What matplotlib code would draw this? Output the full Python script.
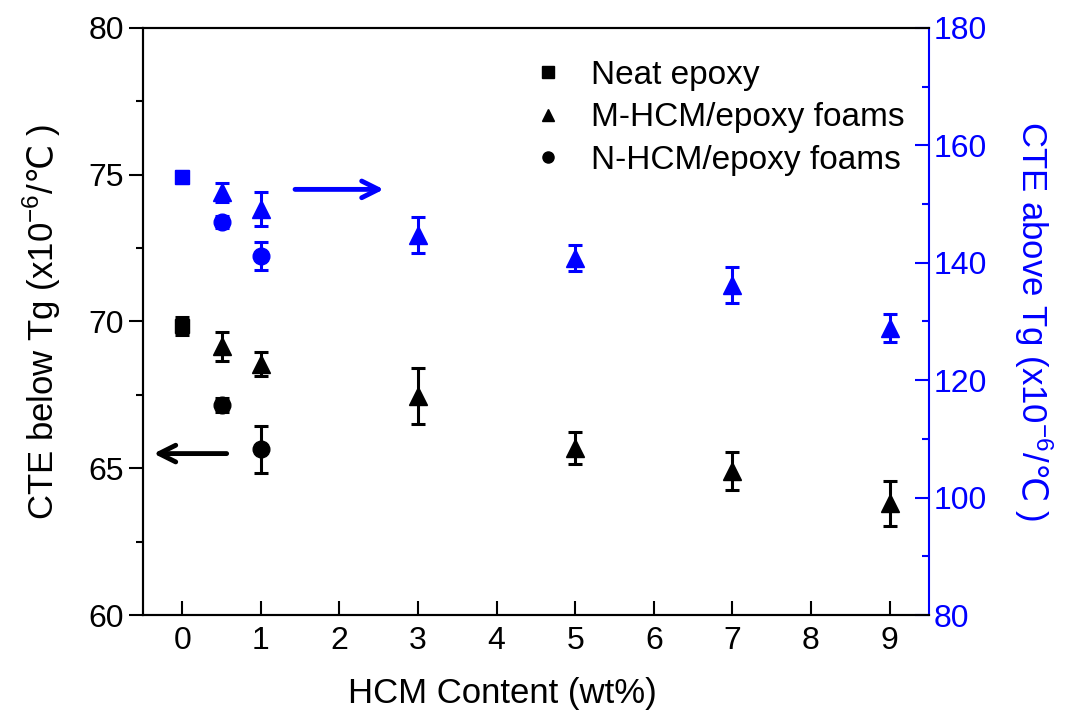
"""CTE below / above Tg versus HCM content, dual y axes."""

import matplotlib

matplotlib.use("Agg")
import matplotlib.pyplot as plt
from matplotlib.lines import Line2D
from matplotlib.ticker import MultipleLocator

plt.rcParams["font.family"] = ["Liberation Sans", "DejaVu Sans"]
plt.rcParams["mathtext.fontset"] = "custom"
plt.rcParams["mathtext.rm"] = "Liberation Sans"
plt.rcParams["mathtext.sf"] = "DejaVu Sans"

BLUE = "#0000ff"

# CTE below Tg (left axis)
neat_x = [0]
neat_below = [69.85]
neat_below_err = [0.3]
m_x = [0.5, 1, 3, 5, 7, 9]
m_below = [69.15, 68.55, 67.45, 65.7, 64.9, 63.8]
m_below_err = [0.5, 0.4, 0.95, 0.55, 0.65, 0.75]
n_x = [0.5, 1]
n_below = [67.15, 65.65]
n_below_err = [0.25, 0.8]

# CTE above Tg (right axis)
neat_above = [154.6]
neat_above_err = [1.0]
m_above = [152.0, 149.2, 144.7, 140.8, 136.2, 128.9]
m_above_err = [1.6, 2.9, 3.1, 2.2, 3.0, 2.4]
n_above = [147.0, 141.2]
n_above_err = [1.0, 2.4]

x_ticks = [0, 1, 2, 3, 4, 5, 6, 7, 8, 9]

fig = plt.figure(figsize=(10.75, 7.16), dpi=100)
ax = fig.add_axes([0.133, 0.141, 0.731, 0.82])
ax2 = ax.twinx()

eb = dict(linestyle="none", capsize=5, elinewidth=2.2, capthick=2.2)
ax.errorbar(neat_x, neat_below, yerr=neat_below_err, marker="s", ms=10, color="black", **eb)
ax.errorbar(m_x, m_below, yerr=m_below_err, marker="^", ms=13, color="black", **eb)
ax.errorbar(n_x, n_below, yerr=n_below_err, marker="o", ms=12, color="black", **eb)

ax2.errorbar(neat_x, neat_above, yerr=neat_above_err, marker="s", ms=10, color=BLUE, **eb)
ax2.errorbar(m_x, m_above, yerr=m_above_err, marker="^", ms=13, color=BLUE, **eb)
ax2.errorbar(n_x, n_above, yerr=n_above_err, marker="o", ms=12, color=BLUE, **eb)

ax.set_xlim(-0.5, 9.5)
ax.set_ylim(60, 80)
ax2.set_ylim(80, 180)
ax.set_xticks(x_ticks)
ax.yaxis.set_major_locator(MultipleLocator(5))
ax.yaxis.set_minor_locator(MultipleLocator(2.5))
ax2.yaxis.set_major_locator(MultipleLocator(20))
ax2.yaxis.set_minor_locator(MultipleLocator(10))

ax.tick_params(axis="x", direction="in", length=10, width=1.5, labelsize=23, pad=8, top=False)
ax.tick_params(axis="y", which="major", direction="out", length=10, width=1.5, labelsize=23)
ax.tick_params(axis="y", which="minor", direction="out", length=5, width=1.5)
ax2.tick_params(axis="y", which="major", direction="in", length=10, width=1.5,
                labelsize=23, colors=BLUE)
ax2.tick_params(axis="y", which="minor", direction="in", length=5, width=1.5, colors=BLUE)

for a in (ax, ax2):
    for s in a.spines.values():
        s.set_linewidth(1.5)
ax2.spines["right"].set_color(BLUE)
ax.spines["right"].set_visible(False)

ax.set_xlabel("HCM Content (wt%)", fontsize=25)
ax.xaxis.set_label_coords(0.457, -0.105)
ax.set_ylabel(r"CTE below Tg (x10$^{\mathrm{-6}}$/$\mathsf{℃}$ )", fontsize=25)
ax.yaxis.set_label_coords(-0.102, 0.5)
ax2.set_ylabel(r"CTE above Tg (x10$^{\mathrm{-6}}$/$\mathsf{℃}$ )", fontsize=25, color=BLUE,
               rotation=270)
ax2.yaxis.set_label_coords(1.16, 0.5)

# arrows pointing to the relevant axis
ax2.annotate("", xy=(2.6, 152.5), xytext=(1.4, 152.5),
             arrowprops=dict(arrowstyle="->", color=BLUE, lw=3.5, mutation_scale=30))
ax.annotate("", xy=(-0.4, 65.5), xytext=(0.6, 65.5),
            arrowprops=dict(arrowstyle="->", color="black", lw=3.5, mutation_scale=30))

handles = [
    Line2D([], [], linestyle="none", marker="s", ms=8, color="black", label="Neat epoxy"),
    Line2D([], [], linestyle="none", marker="^", ms=9, color="black", label="M-HCM/epoxy foams"),
    Line2D([], [], linestyle="none", marker="o", ms=8, color="black", label="N-HCM/epoxy foams"),
]
ax2.legend(handles=handles, loc="upper right", bbox_to_anchor=(1.008, 0.997), frameon=False,
           fontsize=24, handlelength=1.2, handletextpad=0.7, labelspacing=0.35)

fig.savefig("out.png", dpi=100)
